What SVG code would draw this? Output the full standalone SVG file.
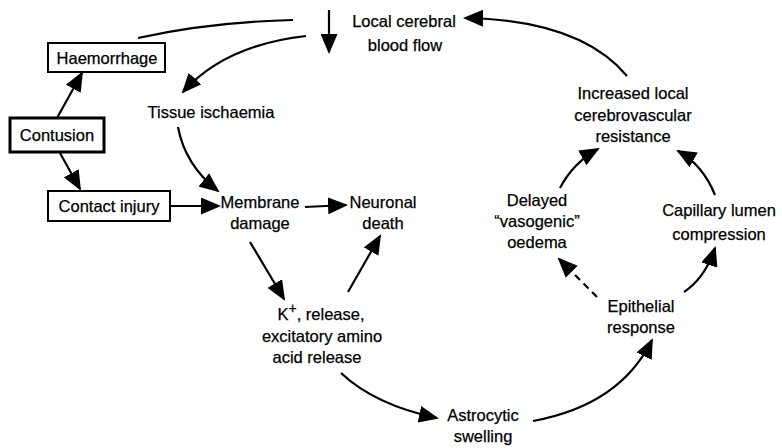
<svg xmlns="http://www.w3.org/2000/svg" width="782" height="448" viewBox="0 0 782 448">
<style>
text{font-family:"Liberation Sans",Arial,sans-serif;font-size:16.5px;fill:#000;stroke:#000;stroke-width:0.25;text-anchor:middle}
.box{fill:#fff;stroke:#000;stroke-width:2}
.thick{stroke-width:3}
.c{fill:none;stroke:#000;stroke-width:2.2}
.d{stroke-dasharray:7,5}
</style>
<defs>
<marker id="ah" markerUnits="userSpaceOnUse" markerWidth="20" markerHeight="17" viewBox="0 0 20 17" refX="18" refY="8.5" orient="auto">
<path d="M0,0 L20,8.5 L0,17 z" fill="#000"/>
</marker>
</defs>
<g id="connectors">
<path class="c" d="M329,10 L329,52" marker-end="url(#ah)"/>
<path class="c" d="M138,38 Q210,22 293,20"/>
<path class="c" d="M306,36 Q225,45 183,92" marker-end="url(#ah)"/>
<path class="c" d="M57,118 L82,73" marker-end="url(#ah)"/>
<path class="c" d="M60,153 L80,189" marker-end="url(#ah)"/>
<path class="c" d="M170,206 L219,206" marker-end="url(#ah)"/>
<path class="c" d="M178,127 Q185,165 218,191" marker-end="url(#ah)"/>
<path class="c" d="M305,207 L346,205" marker-end="url(#ah)"/>
<path class="c" d="M250,242 L284,299" marker-end="url(#ah)"/>
<path class="c" d="M348,292 L380,236" marker-end="url(#ah)"/>
<path class="c" d="M341,373 Q375,405 437,418" marker-end="url(#ah)"/>
<path class="c" d="M533,421 Q620,405 652,340" marker-end="url(#ah)"/>
<path class="c d" d="M597,297 L559,259" marker-end="url(#ah)"/>
<path class="c" d="M684,292 Q705,278 715,248" marker-end="url(#ah)"/>
<path class="c" d="M560,188 Q573,163 598,149" marker-end="url(#ah)"/>
<path class="c" d="M715,195 Q703,165 678,151" marker-end="url(#ah)"/>
<path class="c" d="M627,76 Q580,20 465,18" marker-end="url(#ah)"/>
</g>
<g id="lcbf"><text x="404" y="27">Local cerebral</text><text x="405" y="51">blood flow</text></g>
<g id="haemorrhage"><rect class="box" x="48" y="43" width="117" height="29"/><text x="107" y="64">Haemorrhage</text></g>
<g id="contusion"><rect class="box thick" x="10" y="118" width="94" height="34"/><text x="57" y="141">Contusion</text></g>
<g id="contact"><rect class="box" x="48" y="191" width="122" height="30"/><text x="109" y="212">Contact injury</text></g>
<g id="ischaemia"><text x="211" y="118">Tissue ischaemia</text></g>
<g id="membrane"><text x="260" y="208">Membrane</text><text x="260" y="229">damage</text></g>
<g id="neuronal"><text x="383" y="208">Neuronal</text><text x="383" y="229">death</text></g>
<g id="kplus"><text x="321" y="320">K<tspan font-size="14" dy="-7">+</tspan><tspan dy="7">, release,</tspan></text><text x="322" y="342">excitatory amino</text><text x="317" y="363">acid release</text></g>
<g id="astrocytic"><text x="483" y="421">Astrocytic</text><text x="483" y="442">swelling</text></g>
<g id="epithelial"><text x="641" y="312">Epithelial</text><text x="641" y="333">response</text></g>
<g id="oedema"><text x="537" y="206">Delayed</text><text x="537" y="227">“vasogenic”</text><text x="537" y="248">oedema</text></g>
<g id="capillary"><text x="719" y="216">Capillary lumen</text><text x="719" y="240">compression</text></g>
<g id="resistance"><text x="633" y="99">Increased local</text><text x="633" y="121">cerebrovascular</text><text x="633" y="142">resistance</text></g>
</svg>
